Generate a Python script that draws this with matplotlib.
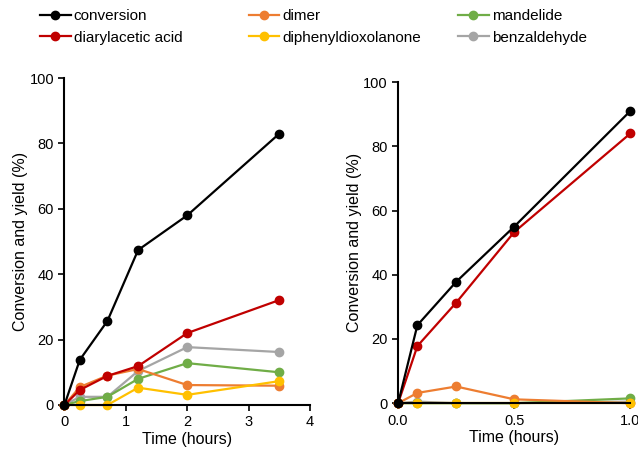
import matplotlib
matplotlib.use("Agg")
import matplotlib.pyplot as plt
from matplotlib.lines import Line2D

plt.rcParams["font.family"] = ["Liberation Sans", "DejaVu Sans"]

# left panel
time_a = [0, 0.25, 0.7, 1.2, 2, 3.5]
conversion_a = [0, 13.8, 25.7, 47.4, 58, 83]
diaryl_a = [0, 4.6, 8.9, 11.9, 22, 32.1]
dimer_a = [0, 5.5, 9, 11, 6.1, 5.9]
mandelide_a = [0, 1.2, 2.5, 8, 12.8, 10]
dioxolanone_a = [0, 0, 0, 5.3, 3.1, 7.3]
benzaldehyde_a = [0, 2.5, 2.5, 10.4, 17.7, 16.2]

# right panel
time_b = [0, 0.083, 0.25, 0.5, 1.0]
conversion_b = [0, 24.3, 37.8, 55, 91]
diaryl_b = [0, 17.8, 31.3, 53.3, 84]
dimer_b = [0, 3.2, 5.2, 1.2, 0]
mandelide_b = [0, 0, 0, 0, 1.5]
dioxolanone_b = [0, 0, 0, 0, 0]
benzaldehyde_b = [0, 0.5, 0, 0, 0.5]

legend_cols = [["conversion", "diarylacetic acid"],
               ["dimer", "diphenyldioxolanone"],
               ["mandelide", "benzaldehyde"]]
colors = {
    "conversion": "#000000",
    "diarylacetic acid": "#c00000",
    "dimer": "#ed7d31",
    "mandelide": "#70ad47",
    "diphenyldioxolanone": "#ffc000",
    "benzaldehyde": "#a5a5a5",
}

fig = plt.figure(figsize=(6.38, 4.51), dpi=100)
ax1 = fig.add_axes([0.101, 0.102, 0.385, 0.725])
ax2 = fig.add_axes([0.624, 0.106, 0.364, 0.712])

series_a = {
    "conversion": conversion_a, "dimer": dimer_a, "mandelide": mandelide_a,
    "diarylacetic acid": diaryl_a, "diphenyldioxolanone": dioxolanone_a,
    "benzaldehyde": benzaldehyde_a,
}
series_b = {
    "conversion": conversion_b, "dimer": dimer_b, "mandelide": mandelide_b,
    "diarylacetic acid": diaryl_b, "diphenyldioxolanone": dioxolanone_b,
    "benzaldehyde": benzaldehyde_b,
}
order = ["benzaldehyde", "mandelide", "dimer", "diphenyldioxolanone",
         "diarylacetic acid", "conversion"]

for ax, t, series in [(ax1, time_a, series_a), (ax2, time_b, series_b)]:
    for name in order:
        ax.plot(t, series[name], color=colors[name], marker="o",
                markersize=6, linewidth=1.6, clip_on=False)
    ax.spines["top"].set_visible(False)
    ax.spines["right"].set_visible(False)
    ax.spines["left"].set_linewidth(1.5)
    ax.spines["bottom"].set_linewidth(1.5)
    ax.set_ylim(0, 100)
    ax.set_yticks([0, 20, 40, 60, 80, 100])
    ax.tick_params(direction="out", length=4, width=1.2, labelsize=10.5)
    ax.set_ylabel("Conversion and yield (%)", fontsize=11.5, labelpad=1)
    ax.set_xlabel("Time (hours)", fontsize=11.5, labelpad=2)

ax1.set_xlim(0, 4)
ax1.set_xticks([0, 1, 2, 3, 4])
ax2.set_xlim(0, 1.0)
ax2.set_xticks([0.0, 0.5, 1.0])
ax2.set_xticklabels(["0.0", "0.5", "1.0"])

# three single-column legends with equal spacing, like the original
for x0, names in zip([0.063, 0.390, 0.718], legend_cols):
    handles = [Line2D([0], [0], color=colors[n], marker="o", markersize=6,
                      linewidth=1.6) for n in names]
    fig.legend(handles, names, loc="upper left", bbox_to_anchor=(x0, 0.98),
               frameon=False, fontsize=11, borderpad=0, borderaxespad=0,
               handlelength=2.0, handletextpad=0.2, labelspacing=0.5)

fig.savefig("out.png", dpi=100)
